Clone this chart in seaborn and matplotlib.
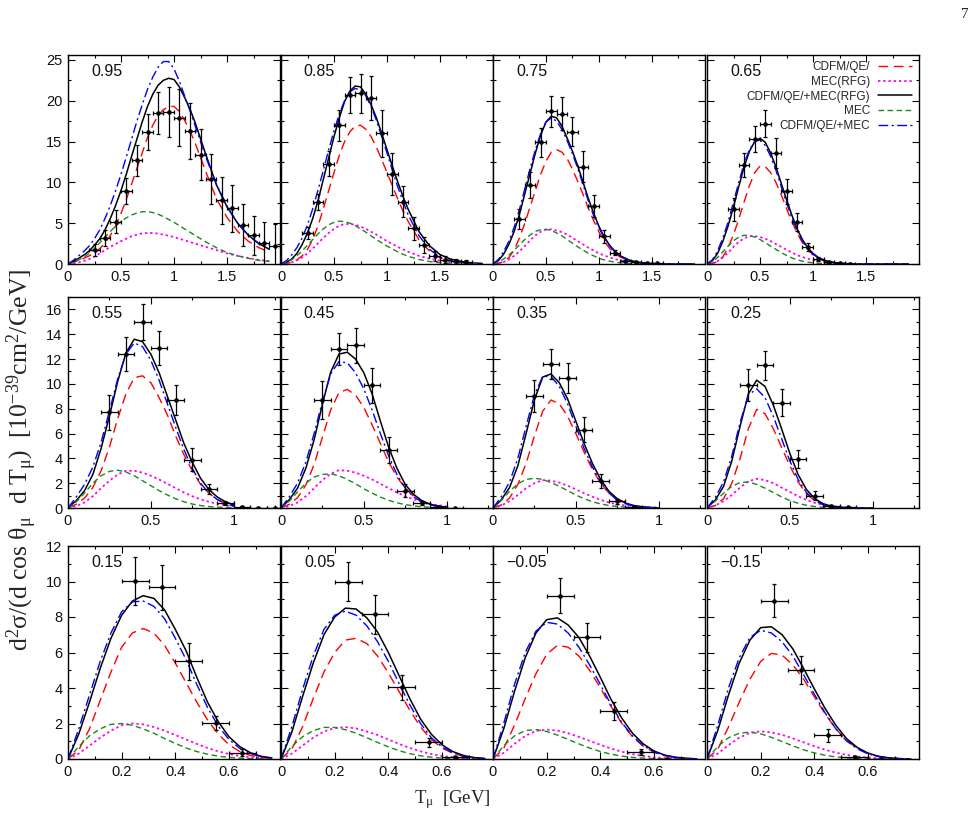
import matplotlib
matplotlib.use("Agg")
import matplotlib.pyplot as plt
from matplotlib.ticker import MultipleLocator, FixedLocator, FuncFormatter
import pandas as pd
import seaborn as sns

sns.set_theme(style="ticks")
plt.rcParams["font.family"] = ["Liberation Sans", "DejaVu Sans"]
plt.rcParams["mathtext.fontset"] = "custom"
plt.rcParams["mathtext.rm"] = "Liberation Serif"
plt.rcParams["mathtext.it"] = "Liberation Serif:italic"

# ---- data ----
panel_labels = ["0.95", "0.85", "0.75", "0.65", "0.55", "0.45", "0.35", "0.25",
                "0.15", "0.05", "\u22120.05", "\u22120.15"]
legend_labels = ["CDFM/QE/", "MEC(RFG)", "CDFM/QE/+MEC(RFG)", "MEC", "CDFM/QE/+MEC"]

t_top = [0.0, 0.05, 0.1, 0.15, 0.2, 0.25, 0.3, 0.35, 0.4, 0.45, 0.5, 0.55, 0.6, 0.65, 0.7, 0.75,
         0.8, 0.85, 0.9, 0.95, 1.0, 1.05, 1.1, 1.15, 1.2, 1.3, 1.4, 1.5, 1.6, 1.7, 1.8, 1.9]
t_mid = [0.0, 0.05, 0.1, 0.15, 0.2, 0.25, 0.3, 0.35, 0.4, 0.45, 0.5, 0.55, 0.6, 0.65, 0.7, 0.75, 0.8, 0.85, 0.9, 0.95, 1.0]
t_bot = [0.0, 0.04, 0.08, 0.12, 0.16, 0.2, 0.24, 0.28, 0.32, 0.36, 0.4, 0.44, 0.48, 0.52, 0.56, 0.6, 0.64, 0.68, 0.72, 0.76]

# cos = 0.95
qe_095 = [0, 0.2, 0.45, 0.7, 1.0, 1.35, 1.9, 2.6, 3.5, 4.7, 6.2, 7.9, 9.8, 11.7, 13.6, 15.5,
          17.0, 18.2, 18.9, 19.3, 19.3, 18.7, 17.6, 16.3, 14.8, 11.3, 8.0, 5.7, 4.0, 2.8, 2.0, 1.45]
mrfg_095 = [0, 0.08, 0.2, 0.38, 0.6, 0.9, 1.3, 1.7, 2.1, 2.45, 2.8, 3.1, 3.4, 3.6, 3.75, 3.8,
            3.8, 3.72, 3.6, 3.45, 3.3, 3.1, 2.9, 2.7, 2.5, 2.1, 1.7, 1.3, 1.0, 0.75, 0.5, 0.35]
trfg_095 = [0, 0.3, 0.7, 1.1, 1.6, 2.3, 3.1, 4.2, 5.6, 7.2, 9.0, 11.0, 13.2, 15.3, 17.4, 19.3,
            20.8, 21.9, 22.5, 22.75, 22.6, 21.7, 20.4, 19.0, 17.3, 13.4, 9.7, 7.0, 5.0, 3.55, 2.5, 1.8]
mec_095 = [0, 0.2, 0.5, 0.85, 1.3, 1.9, 2.6, 3.3, 4.0, 4.65, 5.2, 5.65, 6.0, 6.25, 6.4, 6.42,
           6.3, 6.1, 5.8, 5.45, 5.1, 4.7, 4.3, 3.9, 3.5, 2.7, 2.0, 1.4, 1.0, 0.7, 0.45, 0.3]
tot_095 = [0, 0.45, 1.0, 1.55, 2.2, 3.1, 4.2, 5.6, 7.2, 9.0, 11.0, 13.1, 15.3, 17.5, 19.5, 21.4,
           22.9, 24.1, 24.8, 24.8, 23.9, 22.4, 20.6, 18.8, 16.9, 13.1, 9.8, 7.1, 5.0, 3.5, 2.5, 1.8]
dx_095 = [0.25, 0.35, 0.45, 0.55, 0.65, 0.75, 0.85, 0.95, 1.05, 1.15, 1.25, 1.35, 1.45, 1.55, 1.65, 1.75, 1.85, 1.95]
dy_095 = [1.7, 3.2, 5.2, 8.9, 12.7, 16.2, 18.5, 18.6, 17.9, 16.3, 13.4, 10.4, 7.8, 6.8, 4.8, 3.5, 2.6, 2.2]
de_095 = [0.7, 1.0, 1.4, 1.6, 1.9, 2.2, 2.6, 3.1, 3.5, 3.4, 3.1, 3.1, 2.9, 2.9, 2.6, 2.4, 2.6, 2.7]

# cos = 0.85
qe_085 = [0, 0.05, 0.2, 0.5, 1.0, 1.8, 3.0, 4.7, 6.8, 9.0, 11.2, 13.3, 15.0, 16.2, 16.9, 17.0,
          16.5, 15.6, 14.3, 12.8, 11.2, 9.6, 8.0, 6.5, 5.2, 3.0, 1.6, 0.75, 0.35, 0.15, 0.05, 0.02]
mrfg_085 = [0, 0.06, 0.2, 0.45, 0.8, 1.3, 1.9, 2.55, 3.2, 3.8, 4.3, 4.7, 4.9, 4.9, 4.8, 4.6,
            4.3, 3.95, 3.6, 3.2, 2.8, 2.45, 2.1, 1.8, 1.5, 1.0, 0.65, 0.4, 0.25, 0.15, 0.08, 0.04]
trfg_085 = [0, 0.2, 0.6, 1.3, 2.4, 3.8, 5.6, 7.8, 10.4, 13.0, 15.6, 17.9, 19.9, 21.2, 21.8, 21.7,
            20.8, 19.5, 17.9, 16.0, 14.0, 12.0, 10.1, 8.3, 6.7, 4.0, 2.25, 1.15, 0.6, 0.3, 0.13, 0.06]
mec_085 = [0, 0.2, 0.5, 1.0, 1.6, 2.3, 3.0, 3.7, 4.3, 4.8, 5.1, 5.25, 5.2, 5.0, 4.7, 4.3,
           3.9, 3.45, 3.0, 2.6, 2.2, 1.85, 1.5, 1.2, 0.95, 0.55, 0.3, 0.15, 0.08, 0.04, 0.02, 0]
tot_085 = [0, 0.4, 1.1, 2.0, 3.2, 4.8, 6.8, 9.1, 11.5, 14.0, 16.3, 18.4, 20.0, 21.1, 21.5, 21.3,
           20.6, 19.3, 17.6, 15.6, 13.6, 11.5, 9.5, 7.7, 6.0, 3.5, 1.8, 0.85, 0.4, 0.2, 0.1, 0.05]
dx_085 = [0.25, 0.35, 0.45, 0.55, 0.65, 0.75, 0.85, 0.95, 1.05, 1.15, 1.25, 1.35, 1.45, 1.55, 1.65, 1.75]
dy_085 = [3.8, 7.6, 12.3, 17.0, 20.7, 20.9, 20.3, 16.0, 11.0, 7.6, 4.4, 2.3, 1.0, 0.55, 0.35, 0.25]
de_085 = [0.7, 1.0, 1.5, 1.9, 2.2, 2.4, 2.7, 2.9, 2.6, 1.9, 1.4, 1.0, 0.6, 0.4, 0.3, 0.3]

# cos = 0.75
qe_075 = [0, 0.05, 0.3, 0.8, 1.7, 3.2, 5.0, 7.0, 9.0, 11.0, 12.6, 13.7, 14.0, 13.7, 12.9, 11.6,
          10.1, 8.5, 6.8, 5.3, 3.9, 2.8, 1.9, 1.3, 0.85, 0.35, 0.12, 0.04, 0, 0, 0, 0]
mrfg_075 = [0, 0.07, 0.25, 0.55, 1.0, 1.55, 2.2, 2.9, 3.5, 3.95, 4.2, 4.25, 4.1, 3.9, 3.6, 3.2,
            2.8, 2.4, 2.0, 1.65, 1.3, 1.05, 0.8, 0.6, 0.45, 0.25, 0.12, 0.06, 0.03, 0, 0, 0]
trfg_075 = [0, 0.4, 1.2, 2.4, 4.0, 6.1, 8.6, 11.1, 13.6, 15.8, 17.4, 18.1, 17.9, 16.9, 15.4, 13.8,
            12.0, 10.0, 8.0, 6.2, 4.6, 3.3, 2.3, 1.55, 1.0, 0.4, 0.15, 0.05, 0.02, 0, 0, 0]
mec_075 = [0, 0.25, 0.6, 1.1, 1.7, 2.35, 3.0, 3.55, 4.0, 4.2, 4.25, 4.1, 3.8, 3.45, 3.0, 2.55,
           2.1, 1.7, 1.3, 1.0, 0.7, 0.5, 0.35, 0.23, 0.15, 0.06, 0.02, 0, 0, 0, 0, 0]
tot_075 = [0, 0.55, 1.5, 2.8, 4.5, 6.7, 9.2, 11.7, 14.0, 16.0, 17.4, 17.9, 17.5, 16.5, 15.1, 13.5,
           11.7, 9.7, 7.7, 5.9, 4.4, 3.2, 2.2, 1.5, 0.95, 0.4, 0.15, 0.05, 0, 0, 0, 0]
dx_075 = [0.25, 0.35, 0.45, 0.55, 0.65, 0.75, 0.85, 0.95, 1.05, 1.15, 1.25, 1.35, 1.45, 1.55]
dy_075 = [5.5, 9.7, 14.9, 18.7, 18.4, 16.2, 11.9, 7.1, 3.4, 1.4, 0.4, 0.2, 0.1, 0.08]
de_075 = [1.2, 1.6, 1.8, 1.9, 2.0, 1.8, 1.9, 1.4, 0.8, 0.3, 0.15, 0.1, 0.1, 0.1]

# cos = 0.65
qe_065 = [0, 0.05, 0.3, 0.9, 2.0, 3.6, 5.5, 7.6, 9.6, 11.2, 12.0, 11.9, 11.2, 10.0, 8.5, 6.8,
          5.2, 3.8, 2.6, 1.75, 1.1, 0.7, 0.4, 0.25, 0.14, 0.04, 0, 0, 0, 0, 0, 0]
mrfg_065 = [0, 0.1, 0.35, 0.8, 1.4, 2.1, 2.7, 3.15, 3.4, 3.42, 3.3, 3.1, 2.8, 2.45, 2.1, 1.75,
            1.4, 1.1, 0.85, 0.65, 0.5, 0.35, 0.25, 0.18, 0.12, 0.05, 0, 0, 0, 0, 0, 0]
trfg_065 = [0, 0.4, 1.3, 2.8, 4.7, 7.0, 9.5, 11.9, 13.8, 15.0, 15.4, 14.9, 13.6, 11.9, 9.9, 7.9,
            6.0, 4.3, 3.0, 2.0, 1.3, 0.8, 0.5, 0.3, 0.18, 0.06, 0.02, 0, 0, 0, 0, 0]
mec_065 = [0, 0.3, 0.8, 1.5, 2.2, 2.85, 3.3, 3.52, 3.5, 3.3, 3.0, 2.6, 2.2, 1.8, 1.4, 1.05,
           0.75, 0.52, 0.35, 0.23, 0.15, 0.09, 0.05, 0.02, 0, 0, 0, 0, 0, 0, 0, 0]
tot_065 = [0, 0.5, 1.6, 3.2, 5.2, 7.6, 10.0, 12.3, 14.0, 15.0, 15.2, 14.5, 13.2, 11.5, 9.5, 7.5,
           5.7, 4.1, 2.8, 1.9, 1.2, 0.75, 0.45, 0.27, 0.15, 0.05, 0, 0, 0, 0, 0, 0]
dx_065 = [0.25, 0.35, 0.45, 0.55, 0.65, 0.75, 0.85, 0.95, 1.05, 1.15, 1.25, 1.35]
dy_065 = [6.7, 12.1, 15.3, 17.2, 13.6, 8.9, 5.1, 2.1, 0.6, 0.25, 0.1, 0.05]
de_065 = [1.4, 1.5, 1.6, 1.7, 1.8, 1.5, 1.1, 0.5, 0.2, 0.1, 0.05, 0.05]

# cos = 0.55
qe_055 = [0, 0.3, 0.8, 1.65, 3.0, 4.9, 7.2, 9.2, 10.5, 10.65, 10.1, 8.9, 7.5, 5.8, 4.3, 3.0, 1.9, 1.2, 0.7, 0.35, 0.18]
mrfg_055 = [0, 0.15, 0.45, 0.95, 1.6, 2.2, 2.7, 3.0, 3.0, 2.85, 2.6, 2.3, 1.95, 1.6, 1.25, 0.95, 0.7, 0.5, 0.35, 0.22, 0.14]
trfg_055 = [0, 0.6, 1.4, 2.7, 4.8, 7.4, 10.2, 12.5, 13.6, 13.4, 12.4, 10.9, 9.0, 7.1, 5.2, 3.7, 2.4, 1.5, 0.9, 0.5, 0.25]
mec_055 = [0, 0.5, 1.2, 2.0, 2.6, 2.95, 3.05, 2.9, 2.6, 2.2, 1.8, 1.4, 1.05, 0.75, 0.5, 0.32, 0.2, 0.12, 0.07, 0.04, 0.02]
tot_055 = [0, 0.9, 1.9, 3.3, 5.3, 7.8, 10.4, 12.4, 13.3, 13.0, 11.9, 10.3, 8.4, 6.5, 4.7, 3.2, 2.0, 1.2, 0.7, 0.35, 0.15]
dx_055 = [0.25, 0.35, 0.45, 0.55, 0.65, 0.75, 0.85, 0.95, 1.05, 1.15, 1.25]
dy_055 = [7.7, 12.4, 15.0, 12.9, 8.7, 3.9, 1.5, 0.43, 0.1, 0.03, 0.0]
de_055 = [1.4, 1.4, 1.45, 1.4, 1.2, 0.95, 0.4, 0.15, 0.05, 0.02, 0.01]

# cos = 0.45
qe_045 = [0, 0.3, 0.83, 1.85, 3.5, 5.7, 7.9, 9.3, 9.55, 9.1, 8.1, 6.7, 5.2, 3.7, 2.5, 1.6, 0.95, 0.55, 0.28, 0.14, 0.06]
mrfg_045 = [0, 0.15, 0.45, 0.95, 1.6, 2.25, 2.75, 3.05, 3.0, 2.85, 2.6, 2.3, 1.95, 1.6, 1.25, 0.95, 0.7, 0.5, 0.33, 0.22, 0.14]
trfg_045 = [0, 0.67, 1.6, 3.2, 5.5, 8.35, 10.95, 12.4, 12.55, 12.0, 10.9, 9.2, 7.0, 4.9, 3.2, 1.9, 1.1, 0.6, 0.3, 0.15, 0.07]
mec_045 = [0, 0.55, 1.3, 2.0, 2.5, 2.7, 2.75, 2.6, 2.3, 1.95, 1.55, 1.2, 0.88, 0.62, 0.42, 0.27, 0.17, 0.1, 0.06, 0.03, 0.02]
tot_045 = [0, 0.9, 2.0, 3.7, 6.0, 8.6, 10.8, 11.8, 11.7, 10.9, 9.6, 7.9, 6.0, 4.2, 2.7, 1.6, 0.9, 0.5, 0.25, 0.12, 0.05]
dx_045 = [0.25, 0.35, 0.45, 0.55, 0.65, 0.75, 0.85, 0.95, 1.05]
dy_045 = [8.7, 12.8, 13.1, 9.9, 4.65, 1.4, 0.43, 0.1, 0.02]
de_045 = [1.5, 1.3, 1.4, 1.4, 1.05, 0.54, 0.15, 0.05, 0.02]

# cos = 0.35
qe_035 = [0, 0.25, 0.8, 1.9, 3.6, 5.8, 7.8, 8.7, 8.4, 7.4, 6.0, 4.5, 3.1, 2.0, 1.2, 0.65, 0.35, 0.17, 0.08, 0.03, 0.01]
mrfg_035 = [0, 0.2, 0.55, 1.05, 1.6, 2.0, 2.25, 2.2, 2.05, 1.8, 1.5, 1.2, 0.9, 0.65, 0.45, 0.3, 0.2, 0.13, 0.08, 0.05, 0.03]
trfg_035 = [0, 0.66, 1.65, 3.4, 6.0, 8.7, 10.55, 10.8, 10.1, 8.8, 7.0, 5.2, 3.6, 2.3, 1.35, 0.75, 0.4, 0.2, 0.1, 0.04, 0.02]
mec_035 = [0, 0.6, 1.35, 1.95, 2.3, 2.4, 2.3, 2.05, 1.75, 1.4, 1.05, 0.75, 0.5, 0.33, 0.2, 0.12, 0.07, 0.04, 0.02, 0.01, 0]
tot_035 = [0, 0.9, 2.1, 4.0, 6.6, 9.1, 10.6, 10.6, 9.8, 8.4, 6.6, 4.8, 3.3, 2.1, 1.2, 0.65, 0.35, 0.17, 0.08, 0.03, 0.01]
dx_035 = [0.25, 0.35, 0.45, 0.55, 0.65, 0.75, 0.85]
dy_035 = [9.05, 11.6, 10.5, 6.3, 2.2, 0.56, 0.08]
de_035 = [1.3, 1.2, 1.2, 1.0, 0.56, 0.2, 0.05]

# cos = 0.25
qe_025 = [0, 0.2, 0.75, 2.0, 4.0, 6.4, 7.95, 7.6, 6.4, 4.9, 3.4, 2.1, 1.15, 0.58, 0.27, 0.11, 0.04, 0.01, 0, 0, 0]
mrfg_025 = [0, 0.2, 0.55, 1.05, 1.65, 2.15, 2.35, 2.25, 2.0, 1.65, 1.3, 0.95, 0.65, 0.42, 0.26, 0.15, 0.08, 0.04, 0.02, 0.01, 0]
trfg_025 = [0, 0.64, 1.74, 3.8, 6.6, 9.2, 10.3, 9.8, 8.3, 6.4, 4.4, 2.7, 1.5, 0.76, 0.35, 0.15, 0.06, 0.02, 0, 0, 0]
mec_025 = [0, 0.55, 1.2, 1.75, 2.05, 2.1, 1.9, 1.6, 1.25, 0.9, 0.6, 0.38, 0.22, 0.12, 0.06, 0.03, 0.01, 0, 0, 0, 0]
tot_025 = [0, 0.85, 2.1, 4.2, 6.9, 9.1, 9.6, 8.9, 7.4, 5.6, 3.8, 2.3, 1.25, 0.62, 0.28, 0.12, 0.05, 0.02, 0, 0, 0]
dx_025 = [0.25, 0.35, 0.45, 0.55, 0.65, 0.75, 0.85]
dy_025 = [9.9, 11.5, 8.5, 3.95, 0.97, 0.15, 0.05]
de_025 = [1.3, 1.15, 1.1, 0.74, 0.36, 0.08, 0.03]

# cos = 0.15
qe_015 = [0, 0.5, 1.7, 3.3, 4.9, 6.3, 7.1, 7.35, 7.1, 6.4, 5.4, 4.3, 3.2, 2.2, 1.4, 0.8, 0.42, 0.2, 0.08, 0.03]
mrfg_015 = [0, 0.3, 0.75, 1.2, 1.6, 1.9, 2.0, 1.95, 1.8, 1.6, 1.35, 1.1, 0.85, 0.62, 0.43, 0.28, 0.17, 0.1, 0.05, 0.02]
trfg_015 = [0, 1.4, 3.2, 5.1, 6.8, 8.1, 8.9, 9.2, 9.05, 8.4, 7.3, 6.1, 4.6, 3.2, 2.1, 1.25, 0.7, 0.35, 0.15, 0.06]
mec_015 = [0, 0.7, 1.3, 1.7, 1.95, 2.0, 1.9, 1.7, 1.45, 1.15, 0.88, 0.62, 0.42, 0.27, 0.16, 0.09, 0.05, 0.02, 0.01, 0]
tot_015 = [0, 1.7, 3.6, 5.5, 7.1, 8.3, 8.85, 8.9, 8.6, 7.9, 6.8, 5.6, 4.2, 2.9, 1.85, 1.1, 0.6, 0.3, 0.13, 0.05]
dx_015 = [0.25, 0.35, 0.45, 0.55, 0.65]
dy_015 = [10.05, 9.67, 5.5, 2.03, 0.36]
de_015 = [1.35, 1.25, 1.05, 0.42, 0.19]

# cos = 0.05
qe_005 = [0, 0.55, 1.8, 3.4, 4.9, 6.0, 6.7, 6.8, 6.5, 5.8, 4.85, 3.8, 2.75, 1.8, 1.1, 0.62, 0.32, 0.15, 0.06, 0.02]
mrfg_005 = [0, 0.3, 0.75, 1.2, 1.55, 1.75, 1.8, 1.72, 1.55, 1.35, 1.1, 0.85, 0.62, 0.43, 0.28, 0.17, 0.1, 0.05, 0.02, 0.01]
trfg_005 = [0, 1.5, 3.5, 5.4, 7.0, 8.0, 8.5, 8.45, 7.95, 7.15, 6.0, 4.7, 3.4, 2.25, 1.4, 0.8, 0.42, 0.2, 0.08, 0.03]
mec_005 = [0, 0.7, 1.25, 1.6, 1.78, 1.78, 1.65, 1.45, 1.2, 0.93, 0.68, 0.47, 0.3, 0.18, 0.1, 0.05, 0.02, 0.01, 0, 0]
tot_005 = [0, 1.8, 3.9, 5.8, 7.3, 8.1, 8.33, 8.1, 7.5, 6.6, 5.5, 4.25, 3.05, 2.0, 1.2, 0.68, 0.35, 0.16, 0.07, 0.02]
dx_005 = [0.25, 0.35, 0.45, 0.55, 0.65]
dy_005 = [9.99, 8.15, 4.03, 0.94, 0.1]
de_005 = [1.1, 1.1, 0.7, 0.25, 0.05]

# cos = -0.05
qe_m005 = [0, 0.6, 1.9, 3.4, 4.8, 5.9, 6.4, 6.3, 5.8, 5.0, 4.0, 2.95, 2.0, 1.25, 0.72, 0.38, 0.18, 0.08, 0.03, 0.01]
mrfg_m005 = [0, 0.35, 0.85, 1.3, 1.58, 1.66, 1.6, 1.45, 1.25, 1.02, 0.8, 0.59, 0.41, 0.27, 0.17, 0.1, 0.05, 0.02, 0.01, 0]
trfg_m005 = [0, 1.7, 3.8, 5.7, 7.1, 7.85, 7.95, 7.55, 6.85, 5.8, 4.6, 3.35, 2.3, 1.45, 0.85, 0.45, 0.22, 0.1, 0.04, 0.01]
mec_m005 = [0, 0.75, 1.3, 1.6, 1.66, 1.55, 1.35, 1.1, 0.85, 0.62, 0.42, 0.27, 0.16, 0.09, 0.05, 0.02, 0.01, 0, 0, 0]
tot_m005 = [0, 2.0, 4.2, 6.0, 7.2, 7.7, 7.6, 7.1, 6.3, 5.3, 4.2, 3.05, 2.05, 1.3, 0.75, 0.4, 0.2, 0.09, 0.03, 0.01]
dx_m005 = [0.25, 0.35, 0.45, 0.55, 0.65]
dy_m005 = [9.2, 6.85, 2.71, 0.4, 0.02]
de_m005 = [1.0, 0.8, 0.5, 0.15, 0.02]

# cos = -0.15
qe_m015 = [0, 0.55, 1.8, 3.2, 4.5, 5.5, 5.95, 5.85, 5.3, 4.5, 3.5, 2.55, 1.7, 1.05, 0.6, 0.3, 0.14, 0.06, 0.02, 0]
mrfg_m015 = [0, 0.3, 0.78, 1.2, 1.47, 1.56, 1.5, 1.36, 1.16, 0.94, 0.72, 0.52, 0.36, 0.23, 0.14, 0.08, 0.04, 0.02, 0.01, 0]
trfg_m015 = [0, 1.6, 3.6, 5.4, 6.7, 7.4, 7.45, 7.0, 6.2, 5.1, 3.95, 2.85, 1.9, 1.15, 0.65, 0.33, 0.15, 0.06, 0.02, 0]
mec_m015 = [0, 0.7, 1.2, 1.45, 1.52, 1.42, 1.22, 0.98, 0.74, 0.52, 0.34, 0.21, 0.12, 0.06, 0.03, 0.01, 0, 0, 0, 0]
tot_m015 = [0, 1.9, 4.0, 5.7, 6.85, 7.25, 7.1, 6.6, 5.8, 4.75, 3.65, 2.6, 1.7, 1.02, 0.57, 0.29, 0.13, 0.05, 0.02, 0]
dx_m015 = [0.25, 0.35, 0.45, 0.55, 0.65]
dy_m015 = [8.92, 5.0, 1.34, 0.12, 0.0]
de_m015 = [0.93, 0.79, 0.36, 0.06, 0.01]

panels = [
    (t_top, [qe_095, mrfg_095, trfg_095, mec_095, tot_095], dx_095, dy_095, de_095),
    (t_top, [qe_085, mrfg_085, trfg_085, mec_085, tot_085], dx_085, dy_085, de_085),
    (t_top, [qe_075, mrfg_075, trfg_075, mec_075, tot_075], dx_075, dy_075, de_075),
    (t_top, [qe_065, mrfg_065, trfg_065, mec_065, tot_065], dx_065, dy_065, de_065),
    (t_mid, [qe_055, mrfg_055, trfg_055, mec_055, tot_055], dx_055, dy_055, de_055),
    (t_mid, [qe_045, mrfg_045, trfg_045, mec_045, tot_045], dx_045, dy_045, de_045),
    (t_mid, [qe_035, mrfg_035, trfg_035, mec_035, tot_035], dx_035, dy_035, de_035),
    (t_mid, [qe_025, mrfg_025, trfg_025, mec_025, tot_025], dx_025, dy_025, de_025),
    (t_bot, [qe_015, mrfg_015, trfg_015, mec_015, tot_015], dx_015, dy_015, de_015),
    (t_bot, [qe_005, mrfg_005, trfg_005, mec_005, tot_005], dx_005, dy_005, de_005),
    (t_bot, [qe_m005, mrfg_m005, trfg_m005, mec_m005, tot_m005], dx_m005, dy_m005, de_m005),
    (t_bot, [qe_m015, mrfg_m015, trfg_m015, mec_m015, tot_m015], dx_m015, dy_m015, de_m015),
]

# ---- styling ----
curve_styles = [
    dict(color="#ff0000", linestyle=(0, (7, 4)), linewidth=1.0),
    dict(color="#ff00ff", linestyle=(0, (1.3, 1.6)), linewidth=1.3),
    dict(color="black", linestyle="-", linewidth=1.1),
    dict(color="#1a8a1a", linestyle=(0, (4, 2.5)), linewidth=1.0),
    dict(color="#0000ff", linestyle=(0, (7, 2.5, 1.5, 2.5)), linewidth=1.0),
]

row_xlim = [2.0, 1.28, 0.79]
row_ylim = [25.6, 17, 12]
row_xticks = [[0, 0.5, 1, 1.5], [0, 0.5, 1], [0, 0.2, 0.4, 0.6]]
row_xminor = [0.25, 0.25, 0.1]
row_yticks = [[0, 5, 10, 15, 20, 25], [0, 2, 4, 6, 8, 10, 12, 14, 16], [0, 2, 4, 6, 8, 10, 12]]
row_yminor = [2.5, 1, 1]

W, H = 977, 823
col_left = [68, 281, 493, 707]
col_w = 212
row_top = [55, 297, 546]
row_bot = [264, 508, 759]

fig = plt.figure(figsize=(W / 100, H / 100), dpi=100)
fmt = FuncFormatter(lambda v, p: f"{v:g}")

for i, (t, curves, dx, dy, de) in enumerate(panels):
    r, c = divmod(i, 4)
    ax = fig.add_axes([col_left[c] / W, 1 - row_bot[r] / H, col_w / W, (row_bot[r] - row_top[r]) / H])
    for k, (vals, st) in enumerate(zip(curves, curve_styles)):
        df = pd.DataFrame({"T": t, "xs": vals})
        sns.lineplot(data=df, x="T", y="xs", ax=ax, estimator=None, sort=False,
                     label=legend_labels[k] if i == 3 else None, **st)
    ax.errorbar(dx, dy, xerr=0.05, yerr=de, fmt="o", ms=2.3, color="black",
                ecolor="black", elinewidth=0.9, capsize=1.6, capthick=0.9, zorder=5)
    ax.set_xlim(0, row_xlim[r])
    ax.set_ylim(0, row_ylim[r])
    ax.xaxis.set_major_locator(FixedLocator(row_xticks[r]))
    ax.xaxis.set_minor_locator(MultipleLocator(row_xminor[r]))
    ax.yaxis.set_major_locator(FixedLocator(row_yticks[r]))
    ax.yaxis.set_minor_locator(MultipleLocator(row_yminor[r]))
    ax.xaxis.set_major_formatter(fmt)
    ax.yaxis.set_major_formatter(fmt)
    ax.tick_params(which="both", direction="in", top=True, right=True, color="black",
                   labelsize=10.5, labelcolor="#111111", width=0.8)
    ax.tick_params(which="major", length=5, pad=4)
    ax.tick_params(which="minor", length=2.5)
    ax.tick_params(axis="y", labelleft=(c == 0))
    ax.set_xlabel("")
    ax.set_ylabel("")
    for sp in ax.spines.values():
        sp.set_color("black")
        sp.set_linewidth(1.0)
    ax.text(0.255, 0.922, panel_labels[i], transform=ax.transAxes, ha="right",
            va="center", fontsize=11.5, color="#111111")
    if i == 3:
        h, l = ax.get_legend_handles_labels()
        ax.legend(h, l, loc="upper right", bbox_to_anchor=(0.967, 0.972), frameon=False,
                  fontsize=8.5, markerfirst=False, handlelength=2.9, handletextpad=0.65,
                  labelspacing=0.24, borderaxespad=0, borderpad=0)

fig.text(0.022, 0.441,
         r"$\mathrm{d^2\sigma/(d\ cos\ \theta_\mu\ \ d\ T_\mu)\ \ [10^{-39}cm^2/GeV]}$",
         rotation=90, ha="center", va="center", fontsize=18.5)
fig.text(0.463, 0.028, r"$\mathrm{T_\mu\ \ [GeV]}$", ha="center", va="center", fontsize=13.5)
fig.text(0.988, 0.982, "7", ha="center", va="center", fontsize=11, family="Liberation Serif")

fig.savefig("out.png", dpi=100)
